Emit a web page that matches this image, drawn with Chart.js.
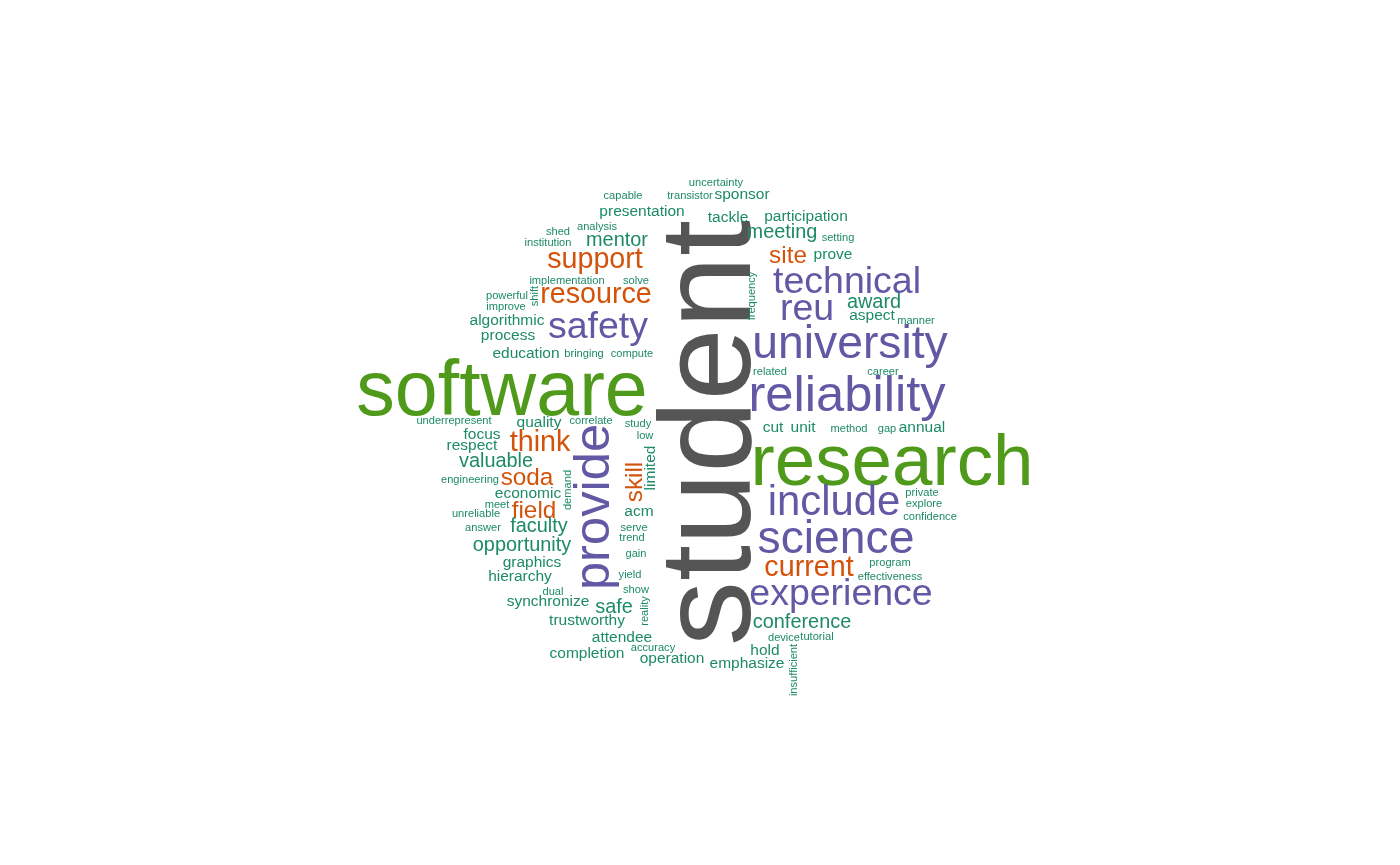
<!DOCTYPE html>
<html>
<head>
<meta charset="utf-8">
<script src="https://cdn.jsdelivr.net/npm/chart.js@4.4.1/dist/chart.umd.min.js"></script>
<style>
  html, body { margin: 0; padding: 0; background: #ffffff; }
  #wrap { width: 1400px; height: 865px; }
</style>
</head>
<body>
<div id="wrap"><canvas id="c" width="1400" height="865"></canvas></div>
<script>
// ---- data: words and their frequencies ----
const words = [
  "student","software","research",
  "reliability","provide","university","science","include",
  "technical","reu","safety","experience",
  "support","resource","think","current",
  "site","soda","field","skill",
  "mentor","meeting","award","conference","valuable","faculty","opportunity","safe",
  "sponsor","presentation","tackle","participation","prove","algorithmic","process","education",
  "aspect","cut","unit","annual","quality","focus","respect","economic","acm","limited",
  "graphics","hierarchy","synchronize","trustworthy","attendee","completion","operation","hold","emphasize",
  "capable","transistor","uncertainty","shed","analysis","institution","setting","implementation",
  "solve","powerful","improve","manner","bringing","compute","related","career","method","gap",
  "underrepresent","correlate","study","low","engineering","meet","unreliable","answer","serve",
  "trend","gain","yield","show","dual","accuracy","private","explore","confidence","program",
  "effectiveness","device","tutorial","frequency","shift","demand","reality","insufficient"
];
const freqs = [
  28,16,15,
  10,10,9,9,8,
  7,7,7,7,
  5,5,5,5,
  4,4,4,4,
  3,3,3,3,3,3,3,3,
  2,2,2,2,2,2,2,2,
  2,2,2,2,2,2,2,2,2,2,
  2,2,2,2,2,2,2,2,2,
  1,1,1,1,1,1,1,1,
  1,1,1,1,1,1,1,1,1,1,
  1,1,1,1,1,1,1,1,1,
  1,1,1,1,1,1,1,1,1,1,
  1,1,1,1,1,1,1,1
];
// ---- cloud layout (word anchor: centre of text along its reading direction, baseline) ----
const layoutX = [
  750,502,892,
  847,609,850,836,834,
  847,807,598,841,
  595,596,540,809,
  788,527,534,642,
  617,782,874,802,496,539,522,614,
  742,642,728,806,833,507,508,526,
  872,773,803,922,539,482,472,528,639,655,
  532,520,548,587,622,587,672,765,747,
  623,690,716,558,597,548,838,567,
  636,507,506,916,584,632,770,883,849,887,
  454,591,638,645,470,497,476,483,634,
  632,636,630,636,553,653,922,924,930,890,
  890,784,817,755,538,571,648,797
];
const layoutY = [
  433,415,485,
  411,507,358,553,515,
  293,320,338,605,
  268,303,451,576,
  263,485,518,482,
  246,238,308,628,467,532,551,613,
  199,216,222,221,259,325,340,358,
  320,432,432,432,427,439,450,498,516,468,
  567,581,606,625,642,658,663,655,668,
  199,199,186,235,230,246,241,284,
  284,299,310,324,357,357,375,375,432,432,
  424,424,427,439,483,508,517,531,531,
  541,557,578,593,595,651,496,507,520,566,
  580,641,640,296,296,490,611,670
];
const verticalWords = ["student","provide","skill","limited","frequency","shift","demand","reality","insufficient"];

// ---- styling helpers ----
function fontSizeFor(f) { return 6.7 + 4.4 * f; }
function colorFor(f) {
  if (f >= 20) return "#555555";
  if (f >= 12) return "#4f9a1a";
  if (f >= 6)  return "#6259a5";
  if (f >= 4)  return "#d4530b";
  return "#1d8a68";
}

const points = words.map((w, i) => ({ x: layoutX[i], y: layoutY[i] }));

const wordPlugin = {
  id: "wordcloud",
  afterDatasetsDraw(chart) {
    const ctx = chart.ctx;
    const meta = chart.getDatasetMeta(0);
    ctx.save();
    meta.data.forEach((el, i) => {
      const f = freqs[i];
      const size = fontSizeFor(f);
      ctx.save();
      ctx.translate(el.x, el.y);
      if (verticalWords.includes(words[i])) ctx.rotate(-Math.PI / 2);
      ctx.font = size.toFixed(1) + 'px "Liberation Sans", Arial, Helvetica, sans-serif';
      ctx.fillStyle = colorFor(f);
      ctx.textAlign = "center";
      ctx.textBaseline = "alphabetic";
      ctx.fillText(words[i], 0, 0);
      ctx.restore();
    });
    ctx.restore();
  }
};

new Chart(document.getElementById("c"), {
  type: "scatter",
  data: {
    datasets: [{
      label: "words",
      data: points,
      pointRadius: 0,
      pointHoverRadius: 0,
      showLine: false
    }]
  },
  options: {
    responsive: false,
    devicePixelRatio: 1,
    animation: false,
    layout: { padding: 0 },
    plugins: { legend: { display: false }, tooltip: { enabled: false } },
    events: [],
    scales: {
      x: { type: "linear", min: 0, max: 1400, display: false },
      y: { type: "linear", min: 0, max: 865, reverse: true, display: false }
    }
  },
  plugins: [wordPlugin]
});
</script>
</body>
</html>
